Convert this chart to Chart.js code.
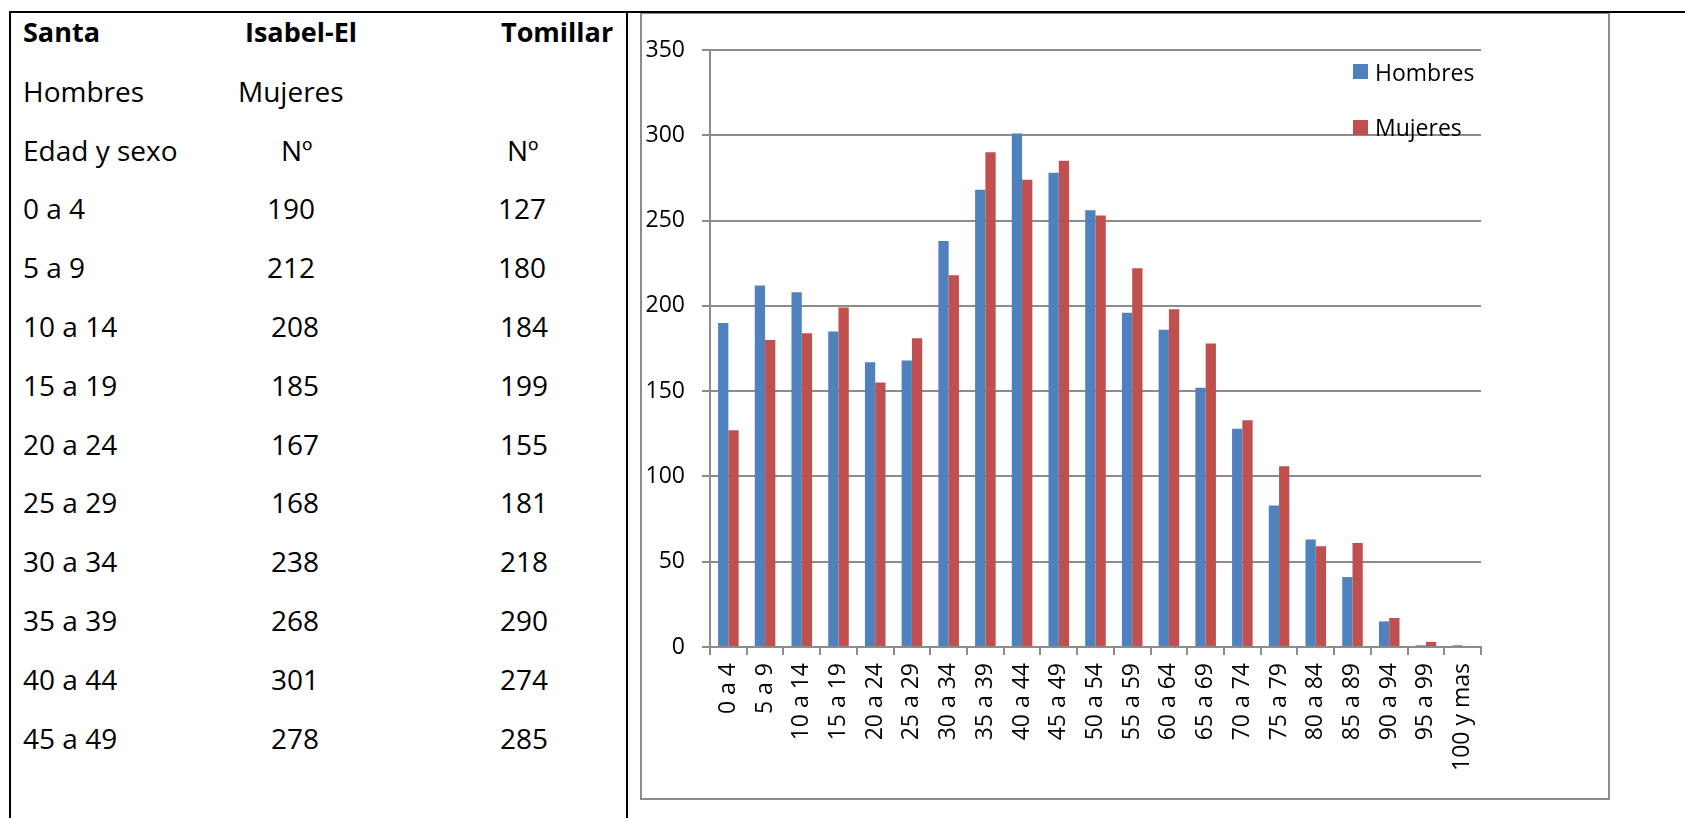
<!DOCTYPE html>
<html>
<head>
<meta charset="utf-8">
<title>Santa Isabel-El Tomillar</title>
<script src="https://cdn.jsdelivr.net/npm/chart.js@4.4.0/dist/chart.umd.min.js"></script>
<style>
  body {
    margin: 0;
    width: 1685px;
    height: 818px;
    position: relative;
    overflow: hidden;
    background: #fff;
    font-family: "Open Sans", sans-serif;
    color: #000;
  }
  .rule { position: absolute; background: #000; }
  .cell {
    position: absolute;
    font-size: 28px;
    line-height: 40px;
    height: 40px;
    white-space: nowrap;
  }
  .cell.bold { font-weight: bold; font-size: 27px; }
  #frame {
    position: absolute;
    left: 640px;
    top: 12px;
    width: 970px;
    height: 788px;
    box-sizing: border-box;
    border: 2px solid #8c8c8c;
  }
  #salesChart { position: absolute; left: 641px; top: 13px; }
  .key { position: absolute; width: 15px; height: 15px; }
  .keyText {
    position: absolute;
    font-size: 23px;
    line-height: 30px;
    height: 30px;
    white-space: nowrap;
  }
</style>
</head>
<body>
<div id="frame"></div>
<canvas id="salesChart" width="966" height="784"></canvas>

<script>
// ============================================
// Santa Isabel-El Tomillar - population by age
// ============================================

const ageGroups = ["0 a 4", "5 a 9", "10 a 14", "15 a 19", "20 a 24", "25 a 29", "30 a 34",
  "35 a 39", "40 a 44", "45 a 49", "50 a 54", "55 a 59", "60 a 64", "65 a 69", "70 a 74",
  "75 a 79", "80 a 84", "85 a 89", "90 a 94", "95 a 99", "100 y mas"];
const hombres = [190, 212, 208, 185, 167, 168, 238, 268, 301, 278, 256, 196, 186, 152, 128, 83, 63, 41, 15, 1, 1];
const mujeres = [127, 180, 184, 199, 155, 181, 218, 290, 274, 285, 253, 222, 198, 178, 133, 106, 59, 61, 17, 3, 0];
const seriesNames = ["Hombres", "Mujeres"];
const seriesColors = ["#4f81bd", "#c0504d"];
const yTicks = [0, 50, 100, 150, 200, 250, 300, 350];

const titleRow = ["Santa", "Isabel-El", "Tomillar"];
const headRow = ["Edad y sexo", "Nº", "Nº"];
const tableRows = 10; // table only lists the first ten age groups

document.addEventListener("DOMContentLoaded", () => {
  const body = document.body;

  // --- Table borders ---
  function rule(left, top, width, height) {
    const d = document.createElement("div");
    d.className = "rule";
    d.style.left = left + "px";
    d.style.top = top + "px";
    d.style.width = width + "px";
    d.style.height = height + "px";
    body.appendChild(d);
  }
  rule(9, 11, 1676, 2);
  rule(9, 11, 2, 807);
  rule(626, 11, 2, 807);

  // --- Table text ---
  function cell(text, left, centerY, bold) {
    const d = document.createElement("div");
    d.className = bold ? "cell bold" : "cell";
    d.textContent = text;
    d.style.left = left + "px";
    d.style.top = centerY - 20 + "px";
    body.appendChild(d);
  }
  const rowY = (i) => 32 + i * 58.8;

  cell(titleRow[0], 23, rowY(0), true);
  cell(titleRow[1], 245, rowY(0), true);
  cell(titleRow[2], 501, rowY(0), true);
  cell(seriesNames[0], 23, rowY(1));
  cell(seriesNames[1], 238, rowY(1));
  cell(headRow[0], 23, rowY(2));
  cell(headRow[1], 281, rowY(2));
  cell(headRow[2], 507, rowY(2));

  for (let i = 0; i < tableRows; i++) {
    cell(ageGroups[i], 23, rowY(i + 3));
    cell(String(hombres[i]), i < 2 ? 267 : 271, rowY(i + 3));
    cell(String(mujeres[i]), i < 2 ? 498 : 500, rowY(i + 3));
  }

  // --- Legend (sits inside the plot, top right) ---
  seriesNames.forEach((name, i) => {
    const y = 71.5 + i * 55.5;
    const sq = document.createElement("div");
    sq.className = "key";
    sq.style.left = "1353px";
    sq.style.top = y - 7.5 + "px";
    sq.style.background = seriesColors[i];
    body.appendChild(sq);

    const label = document.createElement("div");
    label.className = "keyText";
    label.textContent = name;
    label.style.left = "1375px";
    label.style.top = y - 15 + "px";
    body.appendChild(label);
  });

  // --- Chart ---
  const gridColor = "#8c8c8c";
  const tickFont = { family: "'Open Sans', sans-serif", size: 23 };

  const ctx = document.getElementById("salesChart").getContext("2d");
  new Chart(ctx, {
    type: "bar",
    data: {
      labels: ageGroups,
      datasets: [
        { label: seriesNames[0], data: hombres, backgroundColor: seriesColors[0] },
        { label: seriesNames[1], data: mujeres, backgroundColor: seriesColors[1] },
      ],
    },
    options: {
      responsive: false,
      animation: false,
      datasets: { bar: { categoryPercentage: 0.56, barPercentage: 1 } },
      layout: { padding: { left: 0, top: 37, right: 126, bottom: 0 } },
      plugins: { legend: { display: false }, tooltip: { enabled: false } },
      scales: {
        x: {
          grid: { drawOnChartArea: false, offset: true, tickLength: 8, color: gridColor, lineWidth: 2 },
          border: { color: gridColor, width: 2 },
          ticks: { minRotation: 90, maxRotation: 90, autoSkip: false, padding: 8, color: "#000", font: tickFont },
          afterFit: (scale) => { scale.height = 150; },
        },
        y: {
          min: yTicks[0],
          max: yTicks[yTicks.length - 1],
          afterBuildTicks: (scale) => { scale.ticks = yTicks.map((v) => ({ value: v })); },
          grid: { tickLength: 8, color: gridColor, lineWidth: 2 },
          border: { color: gridColor, width: 2 },
          ticks: { padding: 17, color: "#000", font: tickFont },
          afterFit: (scale) => { scale.width = 69; },
        },
      },
    },
  });
});
</script>
</body>
</html>
